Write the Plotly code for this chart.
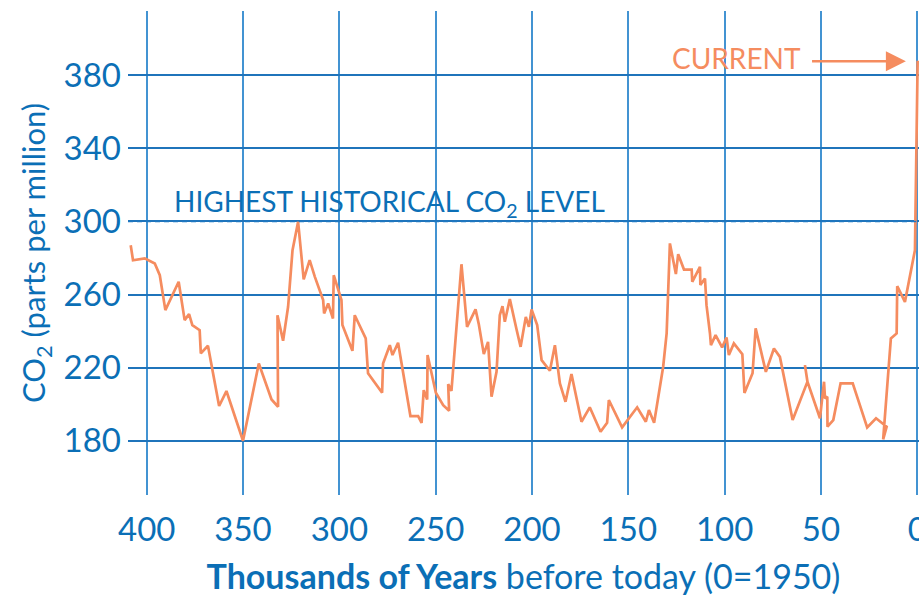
import plotly.graph_objects as go

# thousands of years before 1950
years_kyr = [408.3, 407.1, 401.0, 395.8, 393.2, 390.3, 383.4, 380.3, 378.0, 376.3,
             372.5, 371.9, 368.2, 362.4, 358.6, 350.0, 341.8, 335.2, 331.8, 332.1,
             329.2, 326.6, 324.3, 321.4, 318.5, 315.4, 312.7, 308.4, 307.9, 305.8,
             303.3, 302.9, 298.9, 298.4, 293.2, 292.0, 286.3, 285.1, 277.8, 277.3,
             273.8, 272.4, 269.5, 263.1, 259.1, 257.3, 256.2, 254.4, 254.2, 249.9,
             246.1, 243.0, 243.5, 241.8, 236.6, 233.7, 229.3, 227.6, 225.0, 222.8,
             221.0, 218.4, 216.7, 215.3, 214.1, 211.5, 208.0, 205.9, 203.2, 201.6,
             200.2, 197.3, 195.0, 190.7, 188.1, 185.5, 182.6, 179.5, 174.3, 170.0,
             164.4, 161.0, 160.1, 153.2, 145.4, 140.9, 139.3, 136.6, 131.9, 130.1,
             128.4, 125.3, 124.1, 121.1, 117.1, 116.8, 112.8, 112.6, 110.2, 109.4,
             107.6, 107.1, 104.7, 101.3, 99.0, 97.8, 95.2, 90.8, 89.7, 85.5,
             83.9, 78.6, 74.4, 71.3, 64.7, 57.0, 58.3, 57.0, 50.5, 48.4,
             47.9, 46.7, 46.6, 43.6, 39.8, 33.5, 26.0, 21.4, 15.9, 17.7,
             13.7, 10.7, 10.4, 6.4, 1.2, -0.2]

# CO2 in ppm
co2_ppm = [287.0, 278.8, 279.8, 277.0, 270.6, 251.5, 267.0, 246.0, 249.3, 243.3,
           240.5, 227.8, 232.0, 199.0, 207.2, 180.0, 222.3, 202.6, 198.6, 248.7,
           234.7, 253.3, 284.3, 299.8, 268.3, 278.8, 269.7, 257.0, 249.7, 255.1,
           246.9, 270.6, 257.0, 243.3, 229.2, 248.7, 236.0, 216.9, 206.3, 222.3,
           232.3, 226.9, 233.6, 193.5, 193.5, 189.8, 207.7, 202.6, 226.9, 206.3,
           199.5, 196.4, 211.0, 207.3, 276.6, 242.3, 251.9, 243.8, 227.4, 234.1,
           204.1, 217.7, 248.7, 253.7, 245.1, 257.5, 240.9, 231.4, 247.8, 242.3,
           251.9, 243.3, 224.1, 218.3, 232.3, 211.4, 201.3, 216.5, 190.4, 198.3,
           184.9, 189.8, 202.3, 187.3, 198.3, 190.4, 196.8, 189.8, 220.5, 238.7,
           288.0, 271.2, 282.1, 273.7, 273.7, 267.0, 275.2, 265.2, 268.8, 254.2,
           238.7, 232.3, 237.8, 231.1, 236.5, 226.9, 233.3, 227.4, 206.1, 216.9,
           241.5, 217.7, 230.5, 225.9, 191.3, 212.3, 221.4, 212.3, 192.3, 212.3,
           203.2, 204.1, 187.7, 191.3, 211.4, 211.4, 187.3, 192.3, 187.7, 180.8,
           236.0, 238.7, 264.6, 256.0, 284.3, 388.0]

x_ticks = [400, 350, 300, 250, 200, 150, 100, 50, 0]
y_ticks = [180, 220, 260, 300, 340, 380]
highest_level = 300

BLUE = '#0b6fb6'
ORANGE = '#f58c5f'
FONT = 'Lato'

fig = go.Figure()
fig.add_trace(go.Scatter(x=years_kyr, y=co2_ppm, mode='lines',
                         line=dict(color=ORANGE, width=2.7), showlegend=False))

# dashed "highest historical" level
fig.add_shape(type='line', xref='paper', x0=0, x1=1, y0=highest_level, y1=highest_level,
              line=dict(color='#1f78c1', width=1.5, dash='5px,4px'))

fig.add_annotation(x=387.0, y=310.0, xanchor='left', yanchor='middle', showarrow=False,
                   text='HIGHEST HISTORICAL CO<sub>2</sub> LEVEL',
                   font=dict(family=FONT, size=28, color=BLUE))
fig.add_annotation(x=59.3, y=389.6, xanchor='right', yanchor='middle', showarrow=False,
                   text='CURRENT', font=dict(family=FONT, size=28, color=ORANGE))
fig.add_annotation(x=5.9, y=387.7, ax=55.4, ay=387.7, axref='x', ayref='y', text='',
                   showarrow=True, arrowhead=2, arrowsize=1.6, arrowwidth=2.5,
                   arrowcolor=ORANGE)

fig.update_xaxes(range=[409.7, -0.9], tickvals=x_ticks, ticktext=[str(v) for v in x_ticks],
                 showgrid=True, gridcolor='#4393d2', gridwidth=1.5, zeroline=False,
                 showline=False, ticks='', ticklabelstandoff=12, automargin=False,
                 ticklabeloverflow='allow',
                 tickfont=dict(family=FONT, size=33, color=BLUE),
                 title=dict(text='<b>Thousands of Years</b> before today (0=1950)',
                            font=dict(family=FONT, size=34, color=BLUE), standoff=18))
fig.update_yaxes(range=[150.3, 415.2], tickvals=y_ticks, ticktext=[str(v) for v in y_ticks],
                 showgrid=True, gridcolor='#1f74bb', gridwidth=1.5, zeroline=False,
                 showline=False, ticks='', ticklabelstandoff=6, automargin=False,
                 tickfont=dict(family=FONT, size=33, color=BLUE),
                 title=dict(text='CO<sub>2</sub> (parts per million)',
                            font=dict(family=FONT, size=31, color=BLUE), standoff=8))

fig.update_layout(width=919, height=599, autosize=False,
                  margin=dict(l=128, r=0, t=11, b=104),
                  plot_bgcolor='white', paper_bgcolor='white',
                  font=dict(family=FONT, color=BLUE))

# drop the page's default body margin so the figure sits at the window corner
fig.write_html("out.html", config={'displayModeBar': False},
               post_script="document.body.style.margin='0';")
